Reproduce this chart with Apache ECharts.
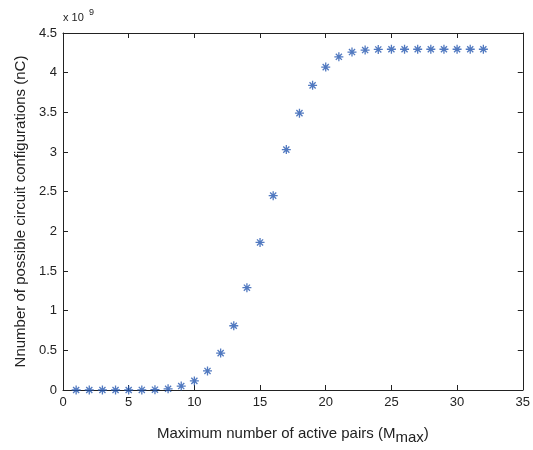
<!DOCTYPE html>
<html>
<head>
<meta charset="utf-8">
<script src="https://cdn.jsdelivr.net/npm/echarts@6/dist/echarts.min.js"></script>
<style>
  html, body { margin: 0; padding: 0; background: #fff; }
  #chart { width: 533px; height: 450px; }
</style>
</head>
<body>
<div id="chart"></div>
<script>
// M_max values and nC (in units of 1e9)
const mMax = [1, 2, 3, 4, 5, 6, 7, 8, 9, 10, 11, 12, 13, 14, 15, 16,
  17, 18, 19, 20, 21, 22, 23, 24, 25, 26, 27, 28, 29, 30, 31, 32];
const nC = [0, 0, 0, 0, 0.0002, 0.001, 0.004, 0.015, 0.05, 0.115, 0.24, 0.465, 0.81, 1.29, 1.86, 2.45,
  3.03, 3.49, 3.84, 4.07, 4.2, 4.26, 4.285, 4.293, 4.295, 4.295, 4.295, 4.295, 4.295, 4.295, 4.295, 4.295];

const font = 'Liberation Sans';
const asterisk = 'path://M0,5L10,5M5,0L5,10M1.6,1.6L8.4,8.4M8.4,1.6L1.6,8.4';

const chart = echarts.init(document.getElementById('chart'));

const baseX = {
  type: 'value', min: 0, max: 35, interval: 5,
  axisLine: { onZero: false, lineStyle: { color: '#222', width: 1 } },
  axisTick: { inside: true, length: 5, lineStyle: { color: '#222' } },
  splitLine: { show: false }
};
const baseY = {
  type: 'value', min: 0, max: 4.5, interval: 0.5,
  axisLine: { onZero: false, lineStyle: { color: '#222', width: 1 } },
  axisTick: { inside: true, length: 5, lineStyle: { color: '#222' } },
  splitLine: { show: false }
};

chart.setOption({
  animation: false,
  grid: { left: 63, right: 6, top: 33, bottom: 52 },
  xAxis: [
    Object.assign({}, baseX, {
      position: 'bottom',
      axisLabel: { color: '#222', fontFamily: font, fontSize: 13, margin: 6 },
      name: 'Maximum number of active pairs (M{sub|max})',
      nameLocation: 'middle', nameGap: 32,
      nameTextStyle: {
        color: '#222', fontFamily: font, fontSize: 15,
        rich: { sub: { fontFamily: font, fontSize: 15, verticalAlign: 'bottom', padding: [8, 0, 0, 0], color: '#222' } }
      }
    }),
    Object.assign({}, baseX, { position: 'top', axisLabel: { show: false } })
  ],
  yAxis: [
    Object.assign({}, baseY, {
      position: 'left',
      axisLabel: {
        color: '#222', fontFamily: font, fontSize: 13, margin: 6,
        formatter: v => String(v)
      },
      name: 'Nnumber of possible circuit configurations (nC)',
      nameLocation: 'middle', nameGap: 34,
      nameTextStyle: { color: '#222', fontFamily: font, fontSize: 15 }
    }),
    Object.assign({}, baseY, { position: 'right', axisLabel: { show: false } })
  ],
  graphic: [{
    type: 'text', left: 63, top: 12,
    style: { text: 'x 10', fontFamily: font, fontSize: 11, fill: '#222' }
  }, {
    type: 'text', left: 89, top: 8,
    style: { text: '9', fontFamily: font, fontSize: 9, fill: '#222' }
  }],
  series: [{
    type: 'scatter',
    data: mMax.map((m, i) => [m, nC[i]]),
    symbol: asterisk,
    symbolSize: 9,
    itemStyle: { color: 'none', borderColor: '#2657b0', borderWidth: 1.3 }
  }]
});
</script>
</body>
</html>
